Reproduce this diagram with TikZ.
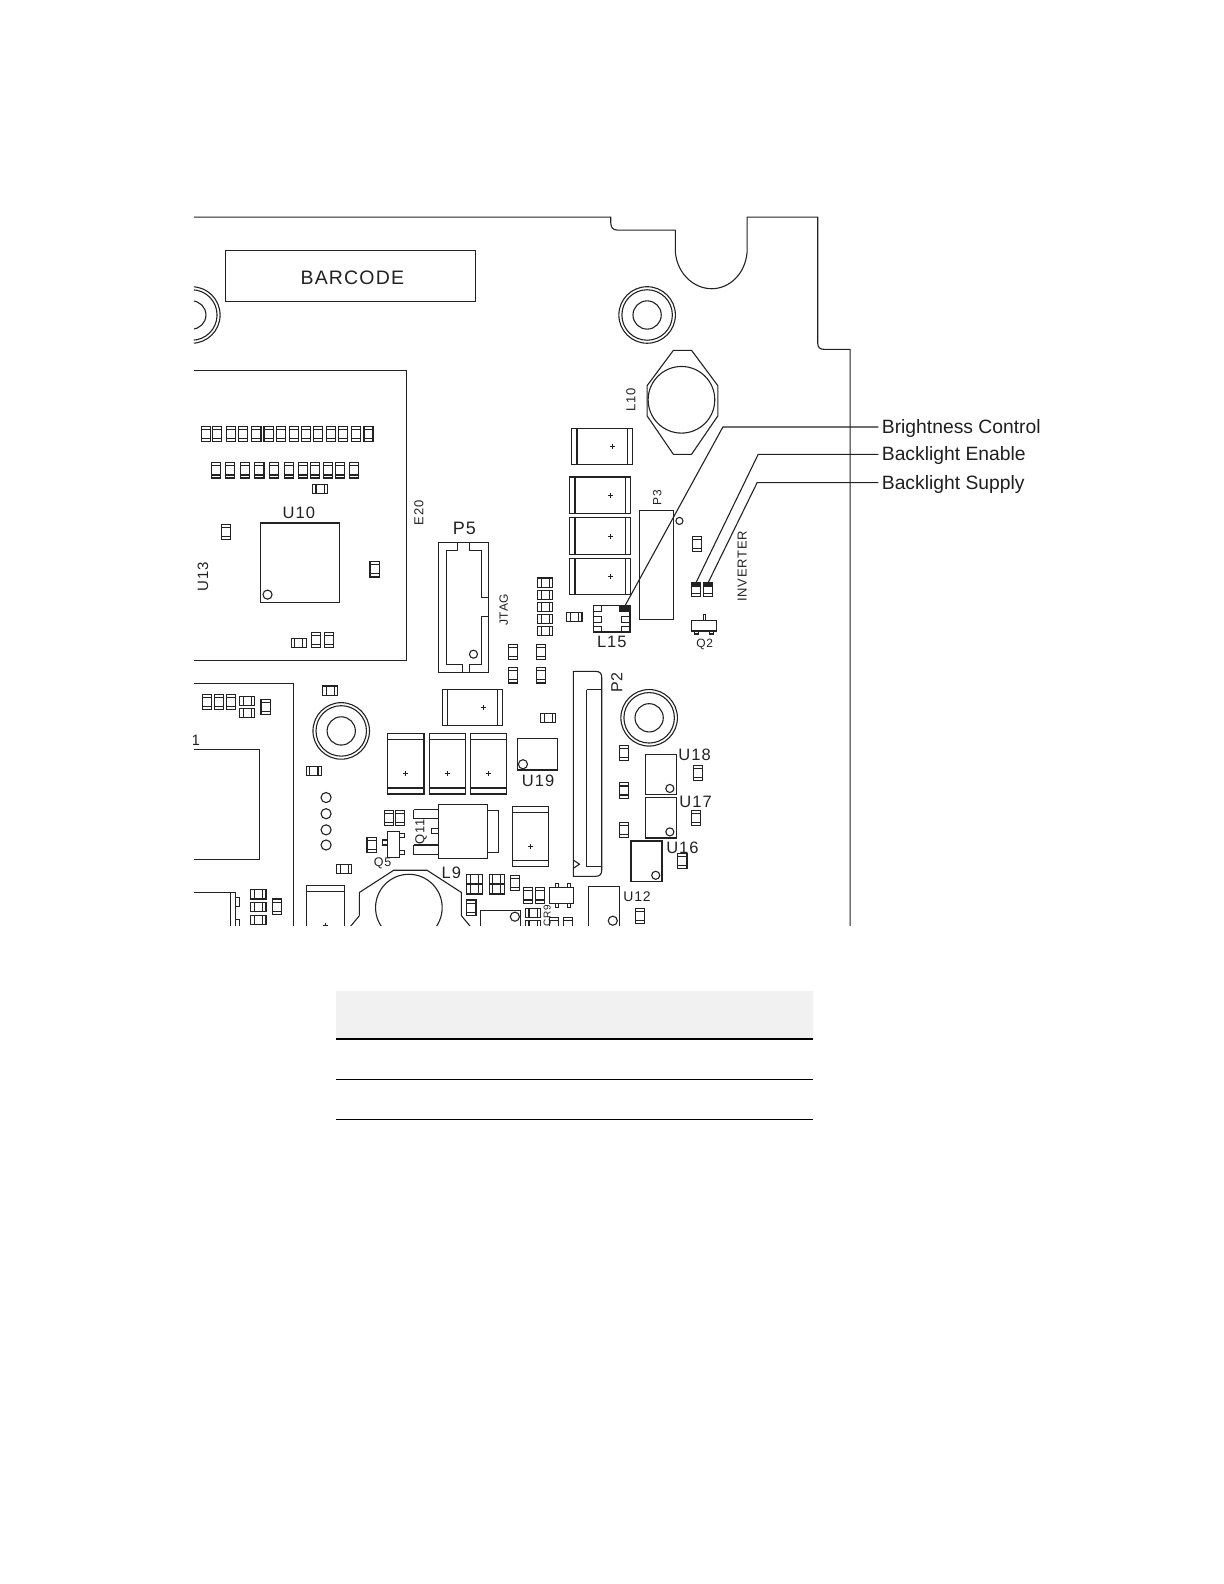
\documentclass[tikz,border=0pt]{standalone}
\usepackage{fontspec}
\setmainfont{Liberation Sans}
\newfontfamily\cadfont[LetterSpace=6]{Liberation Sans}
\usetikzlibrary{positioning,calc}
\definecolor{boardink}{HTML}{222222}
\definecolor{headgray}{HTML}{F1F1F1}
\tikzset{
  boardtxt/.style={font=\cadfont\fontsize{#1}{#1}\selectfont, text=boardink, inner sep=0pt},
  boardtxt/.default=16.5,
  calltxt/.style={font=\fontsize{19.3}{19.3}\selectfont, text=black!88, inner sep=3pt, anchor=west},
  callwire/.style={draw=boardink, line width=1.1pt},
  pics/padv/.style={code={
    \draw (-4.5,-7.5) rectangle (4.5,7.5);
    \draw (-4.5,-4.5) -- (4.5,-4.5) (-4.5,4.5) -- (4.5,4.5);
  }},
  pics/padh/.style={code={
    \draw (-7.5,-4.5) rectangle (7.5,4.5);
    \draw (-4,-4.5) -- (-4,4.5) (4,-4.5) -- (4,4.5);
  }},
  pics/padd/.style={code={
    \draw (-4.5,-6.5) rectangle (4.5,6.5);
    \fill[boardink] (-4.5,-6.5) rectangle (4.5,-3);
    \draw (-4.5,3.5) -- (4.5,3.5);
  }},
  pics/capv/.style={code={
    \draw (-18,-30) rectangle (18,30);
    \draw (-18,-24) -- (18,-24) (-18,24) -- (18,24);
    \draw (-2.5,10) -- (2.5,10) (0,7.5) -- (0,12.5);
  }},
  pics/caph/.style={code={
    \draw (-30,-18) rectangle (30,18);
    \draw (-25,-18) -- (-25,18) (25,-18) -- (25,18);
    \draw (8,0) -- (13,0) (10.5,-2.5) -- (10.5,2.5);
  }},
  pics/holeplate/.style={code={
    \draw (0,0) circle (28) (0,0) circle (25) (0,0) circle (14);
  }},
  pics/smallic/.style={code={
    \draw (-15.5,-20) rectangle (15.5,20);
    \draw[line width=1.6pt] (15.5,-20) -- (15.5,20) -- (-15.5,20);
    \draw (9,14) circle (4);
  }}
}

\begin{document}
\begin{tikzpicture}[x=1.0096pt, y=-1.0096pt, line width=1.1pt, draw=boardink, color=boardink]
  \useasboundingbox (0,0) rectangle (1212.4,1569);
  \begin{scope}
    \clip (192,205) rectangle (850,917);
    % board edge
    \draw (192,215) -- (605,215) -- (605,221) .. controls (605,225) and (607,228) .. (612,228)
      -- (669,228) -- (669,250) .. controls (671,272) and (688,286) .. (705,286)
      .. controls (722,286) and (738,272) .. (740,250) -- (740,215) -- (810,215) -- (810,340)
      .. controls (810,344) and (812,346) .. (816,346) -- (842,346) -- (842,925);
    \node[draw, minimum width=249.4pt, minimum height=50.5pt, anchor=north west] (barcodebox) at (223,248) {};
    \node[boardtxt=19.5] (barcode) at (349,275) {BARCODE};
    \pic at (190,312) {holeplate};
    \pic at (641,312) {holeplate};
    \pic at (338,724) {holeplate};
    \pic at (643,711) {holeplate};
    % processor block
    \draw (192,367) -- (403,367) -- (403,654) -- (192,654);
    \foreach \x in {204,215,229,241,254,266,278,291,303,315,328,340,353,365}
      \pic at (\x,430) {padv};
    \foreach \x in {214,228,243,257,271,286,300,312,325,337,351}
      \pic at (\x,466) {padv};
    \pic at (317,484) {padh};
    \node[boardtxt] (u10txt) at (296,508) {U10};
    \draw (258,518) rectangle (336,597);
    \draw (265,589) circle (4.5);
    \pic at (224,527) {padv};
    \pic at (371,564) {padv};
    \node[boardtxt=15, rotate=90] (u13txt) at (201,571) {U13};
    \pic at (296,637) {padh};
    \pic at (313,634) {padv};
    \pic at (326,634) {padv};
    \node[boardtxt=13, rotate=90] (e20txt) at (415,508) {E20};
    % connector P5
    \node[boardtxt=18] (p5txt) at (460,523) {P5};
    \draw (434,537) rectangle (484,666);
    \draw (453,537) -- (453,545) -- (442,545) -- (442,658) -- (458,658) -- (458,666);
    \draw (465,537) -- (465,545) -- (477,545) -- (477,592) -- (484,592);
    \draw (484,611) -- (477,611) -- (477,658) -- (465,658) -- (465,666);
    \draw (469,648) circle (4);
    \node[boardtxt=12, rotate=90] (jtagtxt) at (499,604) {JTAG};
    % lower left block
    \draw (192,677) -- (291,677) -- (291,925);
    \draw (192,742) -- (257,742) -- (257,851) -- (192,851);
    \node[boardtxt=15] (u1txt) at (194,733) {1};
    \foreach \x in {205,217,229}
      \pic at (\x,695) {padv};
    \pic at (245,694) {padh};
    \pic at (245,706) {padh};
    \pic at (263,700) {padv};
    \pic at (327,684) {padh};
    \pic at (311,764) {padh};
    \foreach \y in {790,806,822,837}
      \draw (323,\y) circle (5);
    % tantalum row
    \foreach \x in {402,443,484}
      \pic at (\x,756.5) {capv};
    \pic at (468,701) {caph};
    \node[draw, minimum width=39.4pt, minimum height=31.3pt, inner sep=0pt] (u19) at (532.5,747) {};
    \draw[line width=1.6pt] (u19.south west) -- (u19.south east);
    \draw (518,757) circle (4.5);
    \node[boardtxt] (u19txt) at (533,773) {U19};
    % regulator Q11
    \draw (434,797) rectangle (483,850);
    \draw (483,803) rectangle (494,844);
    \draw (410,802) -- (434,802) (410,802) -- (410,811) -- (434,811);
    \draw (410,837) -- (434,837) (410,837) -- (410,846) -- (434,846);
    \draw (427,821) rectangle (434,826);
    \node[boardtxt=13, rotate=90] (q11txt) at (417,824) {Q11};
    \pic at (385,810) {padv};
    \pic at (396,810) {padv};
    \pic at (368,837) {padv};
    \draw (384,824) rectangle (396,849);
    \draw (379,832) rectangle (384,837);
    \draw (396,826) rectangle (401,830);
    \draw (396,842) rectangle (401,846);
    \node[boardtxt=12.5] (q5txt) at (379,855) {Q5};
    \pic at (341,861) {padh};
    % inductor L9
    \draw (356,907) -- (356,884) -- (390,862) -- (423,862) -- (457,884) -- (457,907) -- (472,925);
    \draw (356,907) -- (341,925);
    \draw (405,899) circle (33);
    \node[boardtxt] (l9txt) at (447,865) {L9};
    \foreach \x in {470,492}
      \foreach \y in {871,881}
        \pic at (\x,\y) {padh};
    \pic at (510,875) {padv};
    \pic at (467,899) {padv};
    % bottom left corner
    \draw (192,884) -- (233,884) -- (233,925) (228,884) -- (228,925);
    \draw (233,889) rectangle (237,898);
    \draw (233,911) rectangle (237,925);
    \foreach \y in {886,898,911}
      \pic at (256,\y) {padh};
    \pic at (274,898) {padv};
    \draw (304,925) -- (304,877) -- (341,877) -- (341,925) (304,883) -- (341,883);
    \draw (319.5,917) -- (324.5,917) (322,914.5) -- (322,925);
    % connector P2
    \draw (568,665) -- (590,665) .. controls (594,665) and (596,667) .. (596,671)
      -- (596,862) .. controls (596,866) and (594,868) .. (590,868) -- (568,868) -- cycle;
    \draw (581,683) -- (596,683) (581,683) -- (581,858) -- (596,858);
    \draw (568,852) -- (574,856) -- (568,860);
    \node[boardtxt=16, rotate=90] (p2txt) at (611,676) {P2};
    \foreach \y in {746,783,822}
      \pic at (618,\y) {padv};
    \foreach \x/\y in {654.5/767, 654.5/810, 640.5/853}
      \pic at (\x,\y) {smallic};
    \node[boardtxt] (u18txt) at (688,748) {U18};
    \node[boardtxt] (u17txt) at (689,794) {U17};
    \node[boardtxt] (u16txt) at (676,840) {U16};
    \pic at (691,766) {padv};
    \pic at (689,810) {padv};
    \pic at (676,853) {padv};
    \draw (583,925) -- (583,878) -- (614,878) -- (614,925);
    \draw (607,912) circle (4.5);
    \node[boardtxt=14] (u12txt) at (631,888) {U12};
    \pic at (634,907) {padv};
    \pic at (543,711) {padh};
    \foreach \x in {508,536}
      \foreach \y in {646,669}
        \pic at (\x,\y) {padv};
    \pic at (525.5,828.5) {capv};
    % bottom middle
    \pic at (523,887) {padv};
    \pic at (535,887) {padv};
    \draw (544,879) rectangle (568,895);
    \draw (550,875) rectangle (553,879) (562,875) rectangle (565,879);
    \draw (550,895) rectangle (553,899) (562,895) rectangle (565,899);
    \node[boardtxt=10, rotate=90] (cr9txt) at (542,907) {CR9};
    \pic at (528,904) {padh};
    \pic at (528,916) {padh};
    \pic at (549,916) {padv};
    \pic at (563,916) {padv};
    \draw (476,925) -- (476,902) -- (516,902) -- (516,925);
    \draw (510,908) circle (4.5);
    % upper right group
    \draw (637,396) ++(30,-49) -- ++(18,0) -- ++(26,35) -- ++(0,30) -- ++(-26,38) -- ++(-18,0)
      -- ++(-26,-38) -- ++(0,-30) -- cycle;
    \draw (675,396) circle (33);
    \node[boardtxt=13, rotate=90] (l10txt) at (625,396) {L10};
    \pic at (596.5,442) {caph};
    \pic at (594.5,490.5) {caph};
    \pic at (594.5,531) {caph};
    \pic at (594.5,571) {caph};
    \node[draw, minimum width=34.3pt, minimum height=109pt, inner sep=0pt] (p3) at (650,560) {};
    \node[boardtxt=12, rotate=90] (p3txt) at (651,493) {P3};
    \draw (673,516) circle (3.5);
    \pic at (690,539) {padv};
    \pic at (689,584) {padd};
    \pic at (701,584) {padd};
    \draw (685,615) rectangle (710,625);
    \draw (697,609) rectangle (699,615);
    \draw (688,625) rectangle (692,628) (703,625) rectangle (707,628);
    \node[boardtxt=12] (q2txt) at (698,638) {Q2};
    \node[boardtxt=13, rotate=90] (invtxt) at (735,561) {INVERTER};
    % L15 footprint
    \draw (588,600) rectangle (624,626);
    \fill (613,600) rectangle (623,606);
    \draw (588,606) -- (596,606) (596,600) -- (596,606);
    \draw (588,611) rectangle (596,617) (616,611) rectangle (624,617);
    \draw (588,621) -- (596,621) -- (596,626) (616,626) -- (616,621) -- (624,621);
    \node[boardtxt] (l15txt) at (606,636) {L15};
    \foreach \y in {577,589,601,613,625}
      \pic at (540,\y) {padh};
    \pic at (569,611) {padh};
    % callout ends
    \coordinate (brightend) at (618,602);
    \coordinate (enableend) at (689,578);
    \coordinate (supplyend) at (701,578);
  \end{scope}
  \node[calltxt] (bright) at (870,424.5) {Brightness Control};
  \node[calltxt] (enable) at (870,451.5) {Backlight Enable};
  \node[calltxt] (supply) at (870,479.5) {Backlight Supply};
  \draw[callwire] (870,423) -- (716,423) -- (brightend);
  \draw[callwire] (870,450) -- (751,450) -- (enableend);
  \draw[callwire] (870,478) -- (750,478) -- (supplyend);
  % empty table rules
  \fill[headgray] (333,982) rectangle (805,1029);
  \draw[black, line width=2pt] (333,1029) -- (805,1029);
  \draw[black, line width=1pt] (333,1069) -- (805,1069);
  \draw[black, line width=1pt] (333,1109) -- (805,1109);
\end{tikzpicture}
\end{document}
